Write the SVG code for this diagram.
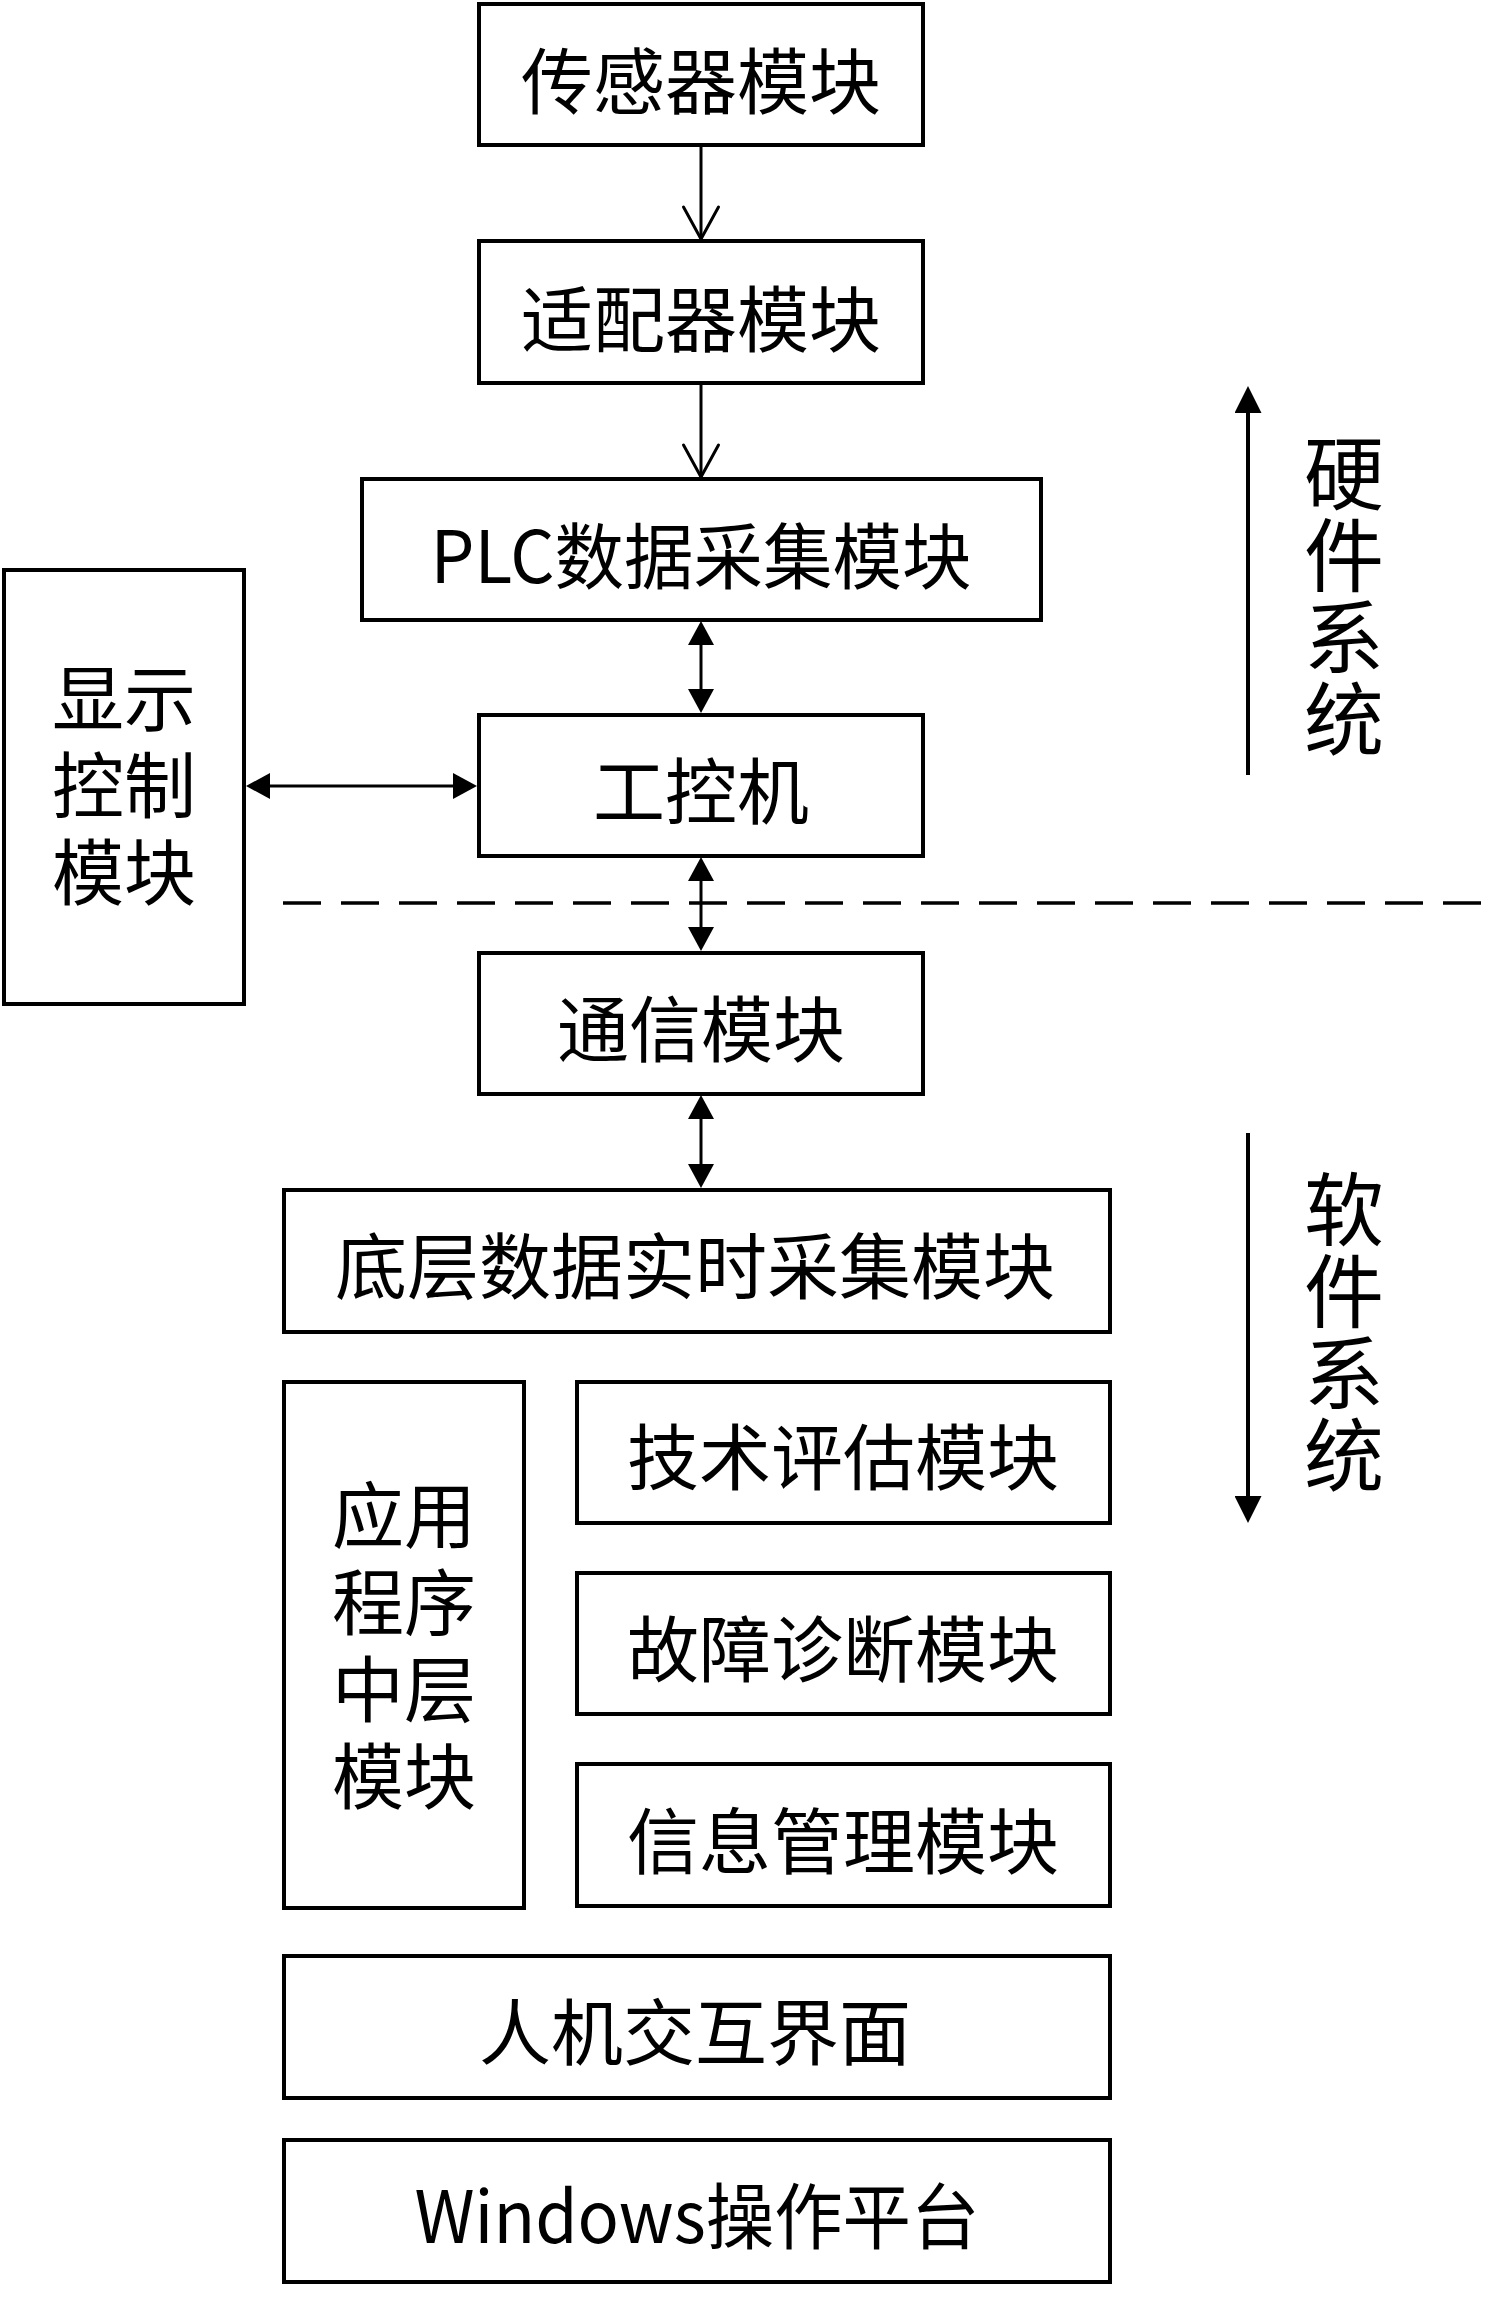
<svg xmlns="http://www.w3.org/2000/svg" width="1500" height="2298" viewBox="0 0 1500 2298">
<style>
.box{fill:#fff;stroke:#000;stroke-width:4}
.t{font-family:"Noto Sans CJK SC","Noto Sans",sans-serif;font-size:72px;fill:#000;text-anchor:middle;dominant-baseline:central}
.ts{font-family:"Liberation Sans","Noto Sans CJK SC",sans-serif;font-size:72px;fill:#000;text-anchor:middle;dominant-baseline:central}
.tv{font-family:"Noto Sans CJK SC","Noto Sans",sans-serif;font-size:80px;fill:#000;text-anchor:middle;dominant-baseline:central;writing-mode:vertical-rl;letter-spacing:2px}
.ln{stroke:#000;stroke-width:3;fill:none}
.lnb{stroke:#000;stroke-width:4;fill:none}
</style>
<defs>
<marker id="fa" viewBox="0 0 24 26" refX="14" refY="13" markerWidth="24" markerHeight="26" markerUnits="userSpaceOnUse" orient="auto-start-reverse"><path d="M0,0 L24,13 L0,26 Z" fill="#000"/></marker>
<marker id="fb" viewBox="0 0 27 27" refX="17" refY="13.5" markerWidth="27" markerHeight="27" markerUnits="userSpaceOnUse" orient="auto"><path d="M0,0 L27,13.5 L0,27 Z" fill="#000"/></marker>
<marker id="oa" viewBox="0 0 32 35" refX="32" refY="17.5" markerWidth="32" markerHeight="35" markerUnits="userSpaceOnUse" orient="auto" overflow="visible"><path d="M0,0 L32,17.5 L0,35" fill="none" stroke="#000" stroke-width="3" stroke-linejoin="round" stroke-linecap="round"/></marker>
</defs>
<rect width="1500" height="2298" fill="#fff"/>
<g id="connectors">
<line class="ln" x1="701" y1="145" x2="701" y2="239" marker-end="url(#oa)"/>
<line class="ln" x1="701" y1="383" x2="701" y2="477" marker-end="url(#oa)"/>
<line class="ln" x1="701" y1="631" x2="701" y2="703" marker-start="url(#fa)" marker-end="url(#fa)"/>
<line class="ln" x1="701" y1="867" x2="701" y2="941" marker-start="url(#fa)" marker-end="url(#fa)"/>
<line class="ln" x1="701" y1="1105" x2="701" y2="1178" marker-start="url(#fa)" marker-end="url(#fa)"/>
<line class="ln" x1="256" y1="786" x2="467" y2="786" marker-start="url(#fa)" marker-end="url(#fa)"/>
<line class="lnb" x1="1248" y1="775" x2="1248" y2="396" marker-end="url(#fb)"/>
<line class="lnb" x1="1248" y1="1133" x2="1248" y2="1513" marker-end="url(#fb)"/>
<line x1="283" y1="903" x2="1500" y2="903" stroke="#000" stroke-width="3.5" stroke-dasharray="38 20"/>
</g>
<g id="n_sensor"><rect class="box" x="479" y="4" width="444" height="141"/><text class="t" x="701" y="76">传感器模块</text></g>
<g id="n_adapter"><rect class="box" x="479" y="241" width="444" height="142"/><text class="t" x="701" y="314">适配器模块</text></g>
<g id="n_plc"><rect class="box" x="362" y="479" width="679" height="141"/><text class="t" x="701" y="551" textLength="541" lengthAdjust="spacingAndGlyphs">PLC数据采集模块</text></g>
<g id="n_ipc"><rect class="box" x="479" y="715" width="444" height="141"/><text class="t" x="701" y="786">工控机</text></g>
<g id="n_comm"><rect class="box" x="479" y="953" width="444" height="141"/><text class="t" x="701" y="1024">通信模块</text></g>
<g id="n_display"><rect class="box" x="4" y="570" width="240" height="434"/><text class="ts"><tspan x="124" y="700">显示</tspan><tspan x="124" y="787">控制</tspan><tspan x="124" y="874">模块</tspan></text></g>
<g id="n_bottom"><rect class="box" x="284" y="1190" width="826" height="142"/><text class="t" x="695" y="1261">底层数据实时采集模块</text></g>
<g id="n_app"><rect class="box" x="284" y="1382" width="240" height="526"/><text class="ts"><tspan x="404" y="1517">应用</tspan><tspan x="404" y="1604">程序</tspan><tspan x="404" y="1691">中层</tspan><tspan x="404" y="1778">模块</tspan></text></g>
<g id="n_tech"><rect class="box" x="577" y="1382" width="533" height="141"/><text class="t" x="843" y="1452">技术评估模块</text></g>
<g id="n_fault"><rect class="box" x="577" y="1573" width="533" height="141"/><text class="t" x="843" y="1644">故障诊断模块</text></g>
<g id="n_info"><rect class="box" x="577" y="1764" width="533" height="142"/><text class="t" x="843" y="1836">信息管理模块</text></g>
<g id="n_hmi"><rect class="box" x="284" y="1956" width="826" height="142"/><text class="t" x="695" y="2027">人机交互界面</text></g>
<g id="n_windows"><rect class="box" x="284" y="2140" width="826" height="142"/><text class="t" x="697" y="2211" textLength="565" lengthAdjust="spacingAndGlyphs">Windows操作平台</text></g>
<g id="label_hw"><text class="tv" x="1344" y="597">硬件系统</text></g>
<g id="label_sw"><text class="tv" x="1344" y="1333">软件系统</text></g>
</svg>
